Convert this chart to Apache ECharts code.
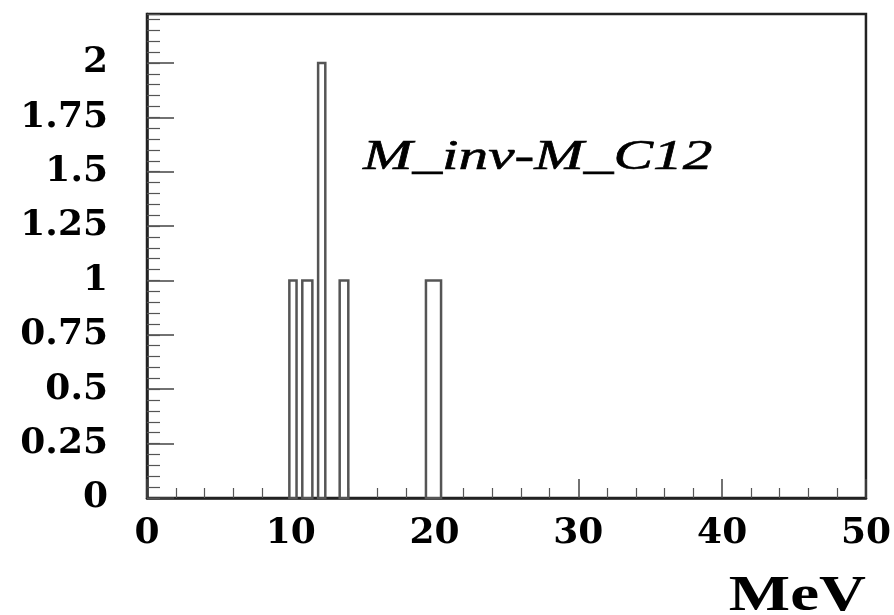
<!DOCTYPE html>
<html>
<head>
<meta charset="utf-8">
<script src="https://cdn.jsdelivr.net/npm/echarts@6/dist/echarts.min.js"></script>
<style>
  html, body { margin: 0; padding: 0; background: #fff; }
  #chart { width: 894px; height: 615px; }
</style>
</head>
<body>
<div id="chart"></div>
<script>
// Histogram bins (MeV): lower edge, upper edge, entries
const binLow  = [9.9, 10.8, 11.9, 13.4, 19.4];
const binHigh = [10.4, 11.5, 12.4, 14.0, 20.45];
const counts  = [1, 1, 2, 1, 1];

// Axis settings
const xMin = 0, xMax = 50, xStep = 10;
const yMin = 0, yMax = 2.225, yStep = 0.25, yMinorStep = 0.05;

const histTitle = 'M_inv-M_C12';
const xTitle = 'MeV';

const bins = binLow.map((lo, i) => [lo, binHigh[i], counts[i]]);

const labelFont = {
  fontFamily: '"DejaVu Serif"',
  fontWeight: 'bold',
  fontSize: 36,
  color: '#000'
};

const chart = echarts.init(document.getElementById('chart'), null, { renderer: 'canvas' });

chart.setOption({
  animation: false,
  backgroundColor: '#fff',
  grid: {
    left: 147, right: 28, top: 14, bottom: 117,
    show: true, borderColor: '#222', borderWidth: 2.5, backgroundColor: 'transparent'
  },
  xAxis: [{
    type: 'value',
    min: xMin, max: xMax, interval: xStep,
    position: 'bottom',
    axisLine: { show: true, onZero: false, lineStyle: { color: '#222', width: 2.5 } },
    axisTick: { show: true, inside: true, length: 19, lineStyle: { color: '#444', width: 1.5 } },
    minorTick: { show: true, splitNumber: 5, length: 10, lineStyle: { color: '#555', width: 1.2 } },
    axisLabel: Object.assign({ margin: 18 }, labelFont),
    splitLine: { show: false }
  }],
  yAxis: [{
    type: 'value',
    min: yMin, max: yMax, interval: yStep,
    position: 'left',
    axisLine: { show: true, onZero: false, lineStyle: { color: '#222', width: 2.5 } },
    axisTick: { show: true, inside: true, length: 27, lineStyle: { color: '#444', width: 1.5 } },
    axisLabel: Object.assign({ margin: 39, showMaxLabel: false }, labelFont),
    splitLine: { show: false }
  }, {
    type: 'value',
    min: yMin, max: yMax, interval: yMinorStep,
    position: 'left',
    axisLine: { show: false, onZero: false },
    axisTick: { show: true, inside: true, length: 13, lineStyle: { color: '#555', width: 1.2 } },
    axisLabel: { show: false },
    splitLine: { show: false }
  }],
  graphic: [{
    type: 'text',
    x: 363, y: 158,
    scaleX: 1.38,
    style: {
      text: histTitle,
      font: 'italic 43px "Liberation Serif"',
      fill: '#000',
      stroke: '#000',
      lineWidth: 0.6,
      align: 'left',
      verticalAlign: 'middle'
    }
  }, {
    type: 'text',
    x: 866, y: 597,
    scaleX: 1.3,
    style: {
      text: xTitle,
      font: 'bold 50px "Liberation Serif"',
      fill: '#000',
      align: 'right',
      verticalAlign: 'middle'
    }
  }],
  series: [{
    type: 'custom',
    xAxisIndex: 0,
    yAxisIndex: 0,
    encode: { x: [0, 1], y: 2 },
    data: bins,
    renderItem: function (params, api) {
      const lo = api.value(0), hi = api.value(1), n = api.value(2);
      const p0 = api.coord([lo, 0]);
      const p1 = api.coord([hi, n]);
      return {
        type: 'rect',
        shape: { x: p0[0], y: p1[1], width: p1[0] - p0[0], height: p0[1] - p1[1] },
        style: { fill: '#fff', stroke: '#555', lineWidth: 2.5 }
      };
    }
  }]
});
</script>
</body>
</html>
